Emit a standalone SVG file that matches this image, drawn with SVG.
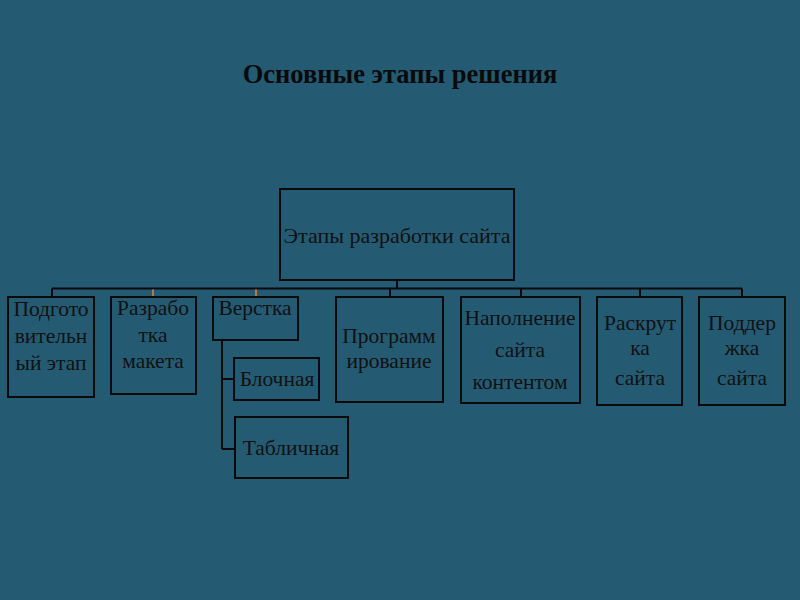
<svg xmlns="http://www.w3.org/2000/svg" width="800" height="600" viewBox="0 0 800 600">
<style>
.bg{fill:#245b73}
.box{fill:none;stroke:#0a0a0a;stroke-width:2}
.t{font-family:"Liberation Serif","DejaVu Serif",serif;font-size:21.5px;fill:#111;text-anchor:middle}
.ln{fill:none;stroke:#0a0a0a;stroke-width:2}
.or{fill:none;stroke:#b87a3a;stroke-width:2}
.title{font-family:"Liberation Serif","DejaVu Serif",serif;font-size:26.5px;font-weight:bold;fill:#0a0a0a;text-anchor:middle}
</style>
<rect class="bg" x="0" y="0" width="800" height="600"/>
<text class="title" x="400" y="83">Основные этапы решения</text>
<g id="connectors">
<path class="ln" d="M397 280V288.5M52 288.5H742M52 288.5V297M390 288.5V297M521 288.5V297M640 288.5V297M742 288.5V297"/>
<path class="or" d="M153 289.5V297M256 289.5V297"/>
<path class="ln" d="M222 340V449M222 379H234M222 449H235"/>
</g>
<g id="root"><rect class="box" x="280" y="189" width="234" height="91"/><text class="t" x="397" y="243" style="font-size:22px">Этапы разработки сайта</text></g>
<g id="n1"><rect class="box" x="8" y="297" width="86" height="100"/><text class="t" x="51" y="316">Подгото</text><text class="t" x="51" y="343">вительн</text><text class="t" x="51" y="370">ый этап</text></g>
<g id="n2"><rect class="box" x="111" y="297" width="85" height="97"/><text class="t" x="153" y="315">Разрабо</text><text class="t" x="153" y="342">тка</text><text class="t" x="153" y="368">макета</text></g>
<g id="n3"><rect class="box" x="213" y="297" width="85" height="43"/><text class="t" x="255" y="315">Верстка</text></g>
<g id="n3a"><rect class="box" x="234" y="358" width="85" height="42"/><text class="t" x="277" y="386">Блочная</text></g>
<g id="n3b"><rect class="box" x="235" y="417" width="113" height="61"/><text class="t" x="291" y="455">Табличная</text></g>
<g id="n4"><rect class="box" x="336" y="297" width="107" height="105"/><text class="t" x="389" y="343">Программ</text><text class="t" x="389" y="368">ирование</text></g>
<g id="n5"><rect class="box" x="461" y="297" width="119" height="106"/><text class="t" x="520" y="325">Наполнение</text><text class="t" x="520" y="357">сайта</text><text class="t" x="520" y="389">контентом</text></g>
<g id="n6"><rect class="box" x="597" y="297" width="85" height="108"/><text class="t" x="640" y="330">Раскрут</text><text class="t" x="640" y="355">ка</text><text class="t" x="640" y="385">сайта</text></g>
<g id="n7"><rect class="box" x="699" y="297" width="86" height="108"/><text class="t" x="742" y="330">Поддер</text><text class="t" x="742" y="355">жка</text><text class="t" x="742" y="385">сайта</text></g>
</svg>
